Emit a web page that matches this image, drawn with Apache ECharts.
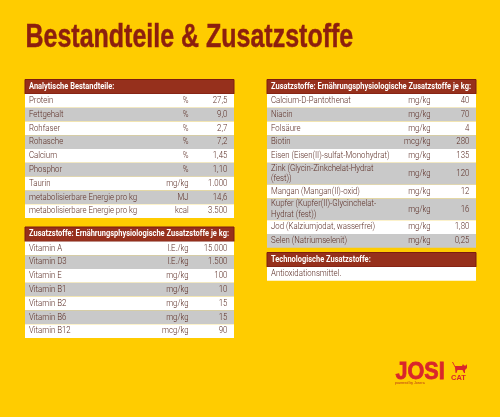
<!DOCTYPE html>
<html><head><meta charset="utf-8">
<style>html,body{margin:0;padding:0;background:#FFCC00}#c{width:500px;height:417px}</style>
<script src="https://cdn.jsdelivr.net/npm/echarts@6/dist/echarts.min.js"></script>
</head><body><div id="c"></div>
<script>
const pageTitle = "Bestandteile & Zusatzstoffe";

const headerA = "Analytische Bestandteile:";
const namesA = ["Protein","Fettgehalt","Rohfaser","Rohasche","Calcium","Phosphor","Taurin","metabolisierbare Energie pro kg","metabolisierbare Energie pro kg"];
const unitsA = ["%","%","%","%","%","%","mg/kg","MJ","kcal"];
const valuesA = ["27,5","9,0","2,7","7,2","1,45","1,10","1.000","14,6","3.500"];

const headerB = "Zusatzstoffe: Ernährungsphysiologische Zusatzstoffe je kg:";
const namesB = ["Vitamin A","Vitamin D3","Vitamin E","Vitamin B1","Vitamin B2","Vitamin B6","Vitamin B12"];
const unitsB = ["I.E./kg","I.E./kg","mg/kg","mg/kg","mg/kg","mg/kg","mcg/kg"];
const valuesB = ["15.000","1.500","100","10","15","15","90"];

const headerC = "Zusatzstoffe: Ernährungsphysiologische Zusatzstoffe je kg:";
const namesC = ["Calcium-D-Pantothenat","Niacin","Folsäure","Biotin","Eisen (Eisen(II)-sulfat-Monohydrat)","Zink (Glycin-Zinkchelat-Hydrat\n(fest))","Mangan (Mangan(II)-oxid)","Kupfer (Kupfer(II)-Glycinchelat-\nHydrat (fest))","Jod (Kalziumjodat, wasserfrei)","Selen (Natriumselenit)"];
const unitsC = ["mg/kg","mg/kg","mg/kg","mcg/kg","mg/kg","mg/kg","mg/kg","mg/kg","mg/kg","mg/kg"];
const valuesC = ["40","70","4","280","135","120","12","16","1,80","0,25"];

const headerD = "Technologische Zusatzstoffe:";
const namesD = ["Antioxidationsmittel."];
const unitsD = [""];
const valuesD = [""];

const FONT = "Roboto";
const TEXT = "#5a2c24", HEAD = "#96301c", EDGE = "#7c1c10", GREY = "#c9c9c9";
const BODY_SCALE = 0.87, HEAD_SCALE = 0.83;

function table(g, header, names, units, values){
  const rows = [];
  rows.push({start:0,end:1.05,name:header,unit:"",value:"",head:true});
  let u = 1.05;
  names.forEach((n,i)=>{
    const h = n.includes("\n") ? 1.58 : 1;
    rows.push({start:u,end:u+h,name:n,unit:units[i],value:values[i],odd:i%2===1});
    u += h;
  });
  return {rows,total:u,g};
}
const tables = [
  table({left:25,top:79.5,width:209},headerA,namesA,unitsA,valuesA),
  table({left:25,top:227,width:209},headerB,namesB,unitsB,valuesB),
  table({left:267,top:79.5,width:209},headerC,namesC,unitsC,valuesC),
  table({left:267,top:252.5,width:209},headerD,namesD,unitsD,valuesD)
];
const RH = 13.78;
const grids=[],xAxes=[],yAxes=[],series=[];
tables.forEach((t,k)=>{
  grids.push({left:t.g.left,top:t.g.top,width:t.g.width,height:t.total*RH});
  xAxes.push({type:"value",gridIndex:k,min:0,max:100,show:false});
  yAxes.push({type:"value",gridIndex:k,min:0,max:t.total,inverse:true,show:false});
  series.push({
    type:"custom",xAxisIndex:k,yAxisIndex:k,coordinateSystem:"cartesian2d",silent:true,
    data:t.rows.map((r,i)=>[0,r.start,r.end,i]),
    clip:false,
    renderItem(params,api){
      const r = t.rows[api.value(3)];
      const p0 = api.coord([0,r.start]), p1 = api.coord([100,r.end]);
      const w=p1[0]-p0[0], h=p1[1]-p0[1], cy=(p0[1]+p1[1])/2;
      const kids=[{type:"rect",shape:{x:p0[0],y:p0[1],width:w,height:h},
        style:r.head?{fill:HEAD,stroke:EDGE,lineWidth:1}:{fill:r.odd?GREY:"#fff"}}];
      if(r.head){
        kids.push({type:"text",x:p0[0]+4,y:cy,scaleX:HEAD_SCALE,
          style:{text:r.name,fontFamily:FONT,fontWeight:"bold",fontSize:9,fill:"#fff",verticalAlign:"middle",align:"left"}});
      }else{
        const body={fontFamily:FONT,fontWeight:300,fontSize:9,fill:TEXT,verticalAlign:"middle"};
        kids.push({type:"text",x:p0[0]+4,y:cy,scaleX:BODY_SCALE,
          style:Object.assign({text:r.name,lineHeight:10.5,align:"left"},body)});
        const ux=api.coord([78.3,0])[0], vx=api.coord([96.8,0])[0];
        kids.push({type:"text",x:ux,y:cy,scaleX:BODY_SCALE,style:Object.assign({text:r.unit,align:"right"},body)});
        kids.push({type:"text",x:vx,y:cy,scaleX:BODY_SCALE,style:Object.assign({text:r.value,align:"right"},body)});
      }
      return {type:"group",children:kids};
    }
  });
});
const RED = "#d9262b";
const chart = echarts.init(document.getElementById("c"));
chart.setOption({
  backgroundColor:"#FFCC00",animation:false,
  grid:grids,xAxis:xAxes,yAxis:yAxes,series,
  graphic:[
    {type:"text",x:25.5,y:21,scaleX:0.735,style:{text:pageTitle,fontFamily:"'Liberation Sans'",fontWeight:"bold",fontSize:34,fill:"#8c1f0e",stroke:"#8c1f0e",lineWidth:0.5}},
    {type:"text",x:395.5,y:360,scaleX:0.9,style:{text:"JOSI",fontFamily:"'Liberation Sans'",fontWeight:"bold",fontSize:24,fill:RED,stroke:RED,lineWidth:0.8}},
    {type:"text",x:451,y:373.5,style:{text:"CAT",fontFamily:"'Liberation Sans'",fontWeight:"bold",fontSize:7.5,fill:RED}},
    {type:"text",x:395,y:381.5,style:{text:"powered by Josera",fontFamily:"'Liberation Sans'",fontSize:3.5,fill:"#b5301c"}},
    {type:"polygon",shape:{points:[[452,362],[453,362],[455,366],[462,366],[463,364],[464,365.5],[466,365.5],[467,364],[467,368],[465,370],[465,373],[464,373],[462.5,370],[457.5,370],[456.5,373],[455.5,373],[455,367.5]]},style:{fill:RED}}
  ]
});
</script></body></html>
